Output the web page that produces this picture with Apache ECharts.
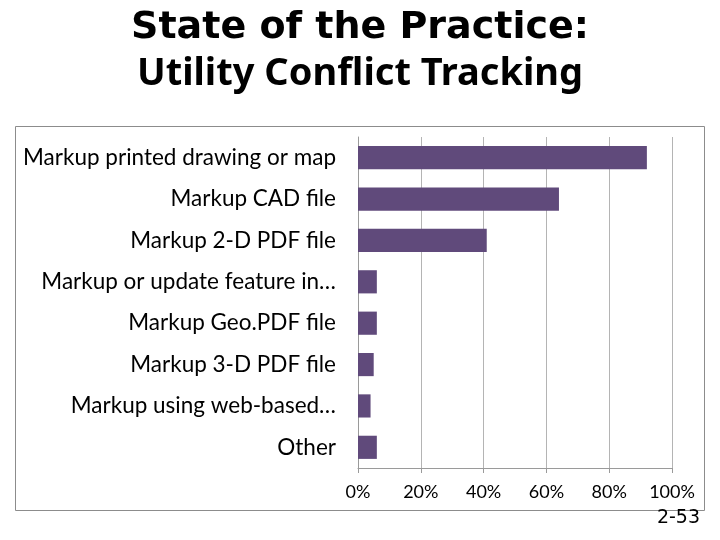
<!DOCTYPE html>
<html>
<head>
<meta charset="utf-8">
<script src="https://cdn.jsdelivr.net/npm/echarts@6/dist/echarts.min.js"></script>
<style>
  html, body { margin: 0; padding: 0; background: #fff; }
  #main { width: 720px; height: 540px; }
</style>
</head>
<body>
<div id="main"></div>
<script>
// categories from top to bottom
var categories = [
    'Markup printed drawing or map',
    'Markup CAD file',
    'Markup 2-D PDF file',
    'Markup or update feature in…',
    'Markup Geo.PDF file',
    'Markup 3-D PDF file',
    'Markup using web-based…',
    'Other'
];
var shares = [92, 64, 41, 6, 6, 5, 4, 6];   // percent of respondents
var tickValues = [0, 20, 40, 60, 80, 100];

var dom = document.getElementById('main');
var myChart = echarts.init(dom);

var option = {
    backgroundColor: '#fff',
    animation: false,
    title: {
        // two lines, styled separately so their widths follow the slide
        text: '{a|State of the Practice:}\n{b|Utility Conflict Tracking}',
        left: 'center',
        top: 0,
        textStyle: {
            rich: {
                a: {
                    fontFamily: 'DejaVu Sans',
                    fontWeight: 'bold',
                    fontSize: 38,
                    lineHeight: 46,
                    color: '#000'
                },
                b: {
                    fontFamily: 'Noto Sans',
                    fontWeight: 'bold',
                    fontSize: 38,
                    lineHeight: 46,
                    color: '#000'
                }
            }
        }
    },
    grid: {
        left: 358,
        right: 48,
        top: 137,
        bottom: 72
    },
    xAxis: {
        type: 'value',
        min: tickValues[0],
        max: tickValues[tickValues.length - 1],
        interval: tickValues[1] - tickValues[0],
        axisLine: { show: true, lineStyle: { color: '#9a9a9a' } },
        axisTick: { show: true, length: 5, lineStyle: { color: '#9a9a9a' } },
        splitLine: { show: true, lineStyle: { color: '#b4b4b4' } },
        axisLabel: {
            margin: 15,
            fontFamily: 'Lato',
            fontSize: 18,
            color: '#000',
            formatter: function (v) { return v + '%'; }
        }
    },
    yAxis: {
        type: 'category',
        inverse: true,
        data: categories,
        axisLine: { show: true, lineStyle: { color: '#9a9a9a' } },
        axisTick: { show: false },
        axisLabel: {
            margin: 22,
            fontFamily: 'Lato',
            fontSize: 22.5,
            color: '#000'
        }
    },
    series: [
        {
            type: 'bar',
            data: shares,
            barWidth: '56%',
            itemStyle: { color: '#604a7b' }
        }
    ],
    graphic: [
        {
            type: 'rect',
            shape: { x: 15.5, y: 126.5, width: 689, height: 384 },
            style: { fill: 'none', stroke: '#8c8c8c', lineWidth: 1 },
            z: -1
        },
        {
            type: 'text',
            right: 20,
            top: 509,
            style: {
                text: '2-53',
                fontFamily: 'DejaVu Sans',
                fontSize: 19,
                fill: '#000'
            }
        }
    ]
};

myChart.setOption(option, true);
</script>
</body>
</html>
